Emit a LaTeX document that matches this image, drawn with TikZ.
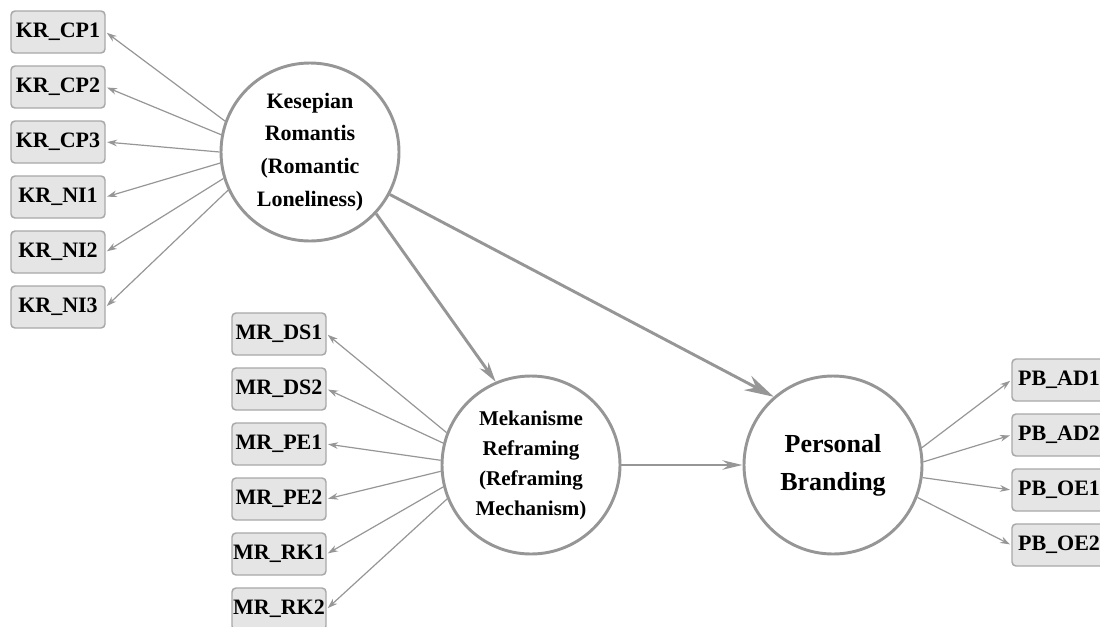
\documentclass[tikz,border=0pt]{standalone}
\usepackage{fontspec}
\setmainfont{Liberation Serif}
\usepackage{tikz}
\usetikzlibrary{arrows.meta}
\definecolor{linegray}{RGB}{150,150,150}
\definecolor{boxgray}{RGB}{229,229,229}
\definecolor{boxline}{RGB}{168,168,168}

\begin{document}
\begin{tikzpicture}[x=0.75pt,y=-0.75pt,
    item/.style={rectangle,draw=boxline,fill=boxgray,line width=1.1pt,minimum width=70.5pt, minimum height=31.5pt, align=center, rounded corners=3pt, inner sep=0pt, font=\fontsize{16.5}{18}\selectfont\bfseries},
    construct/.style={circle,draw=linegray,fill=white,line width=2.2pt,minimum size=133.5pt, align=center, inner sep=0pt},
    load/.style={draw=linegray, line width=0.9pt, -{Stealth[length=7.5pt,width=5pt]}},
    path/.style={draw=linegray, line width=2.2pt}]
    \useasboundingbox (0,0) rectangle (1100,626);
    \clip (0,0) rectangle (1100,626);
      % constructs
      \node[construct, font=\fontsize{16.5}{24.5}\selectfont\bfseries] (kr) at (310,152) {Kesepian\\Romantis\\(Romantic\\Loneliness)};
      \node[construct, font=\fontsize{15.75}{22.5}\selectfont\bfseries] (mr) at (531,465) {Mekanisme\\Reframing\\(Reframing\\Mechanism)};
      \node[construct, font=\fontsize{19.5}{28.5}\selectfont\bfseries] (pb) at (833,465) {Personal\\Branding};
      %
      % indicators
      \node[item] (kr_1) at (58,32) {KR\_CP1};
      \node[item] (kr_2) at (58,87) {KR\_CP2};
      \node[item] (kr_3) at (58,142) {KR\_CP3};
      \node[item] (kr_4) at (58,197) {KR\_NI1};
      \node[item] (kr_5) at (58,252) {KR\_NI2};
      \node[item] (kr_6) at (58,307) {KR\_NI3};
      %
      \node[item] (mr_1) at (279,334) {MR\_DS1};
      \node[item] (mr_2) at (279,389) {MR\_DS2};
      \node[item] (mr_3) at (279,444) {MR\_PE1};
      \node[item] (mr_4) at (279,499) {MR\_PE2};
      \node[item] (mr_5) at (279,554) {MR\_RK1};
      \node[item] (mr_6) at (279,609) {MR\_RK2};
      %
      \node[item] (pb_1) at (1059,380) {PB\_AD1};
      \node[item] (pb_2) at (1059,435) {PB\_AD2};
      \node[item] (pb_3) at (1059,490) {PB\_OE1};
      \node[item] (pb_4) at (1059,545) {PB\_OE2};
      %
      \begin{scope}[shorten >=1pt]
          \draw[load] (kr.160) to (kr_1.east);
          \draw[load] (kr.169) to (kr_2.east);
          \draw[load] (kr.180) to (kr_3.east);
          \draw[load] (kr.187) to (kr_4.east);
          \draw[load] (kr.197) to (kr_5.east);
          \draw[load] (kr.205) to (kr_6.east);
          %
          \draw[load] (mr.159) to (mr_1.east);
          \draw[load] (mr.166) to (mr_2.east);
          \draw[load] (mr.177) to (mr_3.east);
          \draw[load] (mr.184) to (mr_4.east);
          \draw[load] (mr.194) to (mr_5.east);
          \draw[load] (mr.202) to (mr_6.east);
          %
          \draw[load] (pb.11) to (pb_1.west);
          \draw[load] (pb.2) to (pb_2.west);
          \draw[load] (pb.-8) to (pb_3.west);
          \draw[load] (pb.-21) to (pb_4.west);
      \end{scope}
      %
      \draw[path, -{Stealth[length=15pt,width=8pt]}] (kr.-43) to (mr.113);
      \draw[path, -{Stealth[length=22pt,width=12pt]}] (kr.-28) to (pb.131);
      \draw[path, -{Stealth[length=15pt,width=7pt]}] (mr.east) to (pb.west);
\end{tikzpicture}
\end{document}
